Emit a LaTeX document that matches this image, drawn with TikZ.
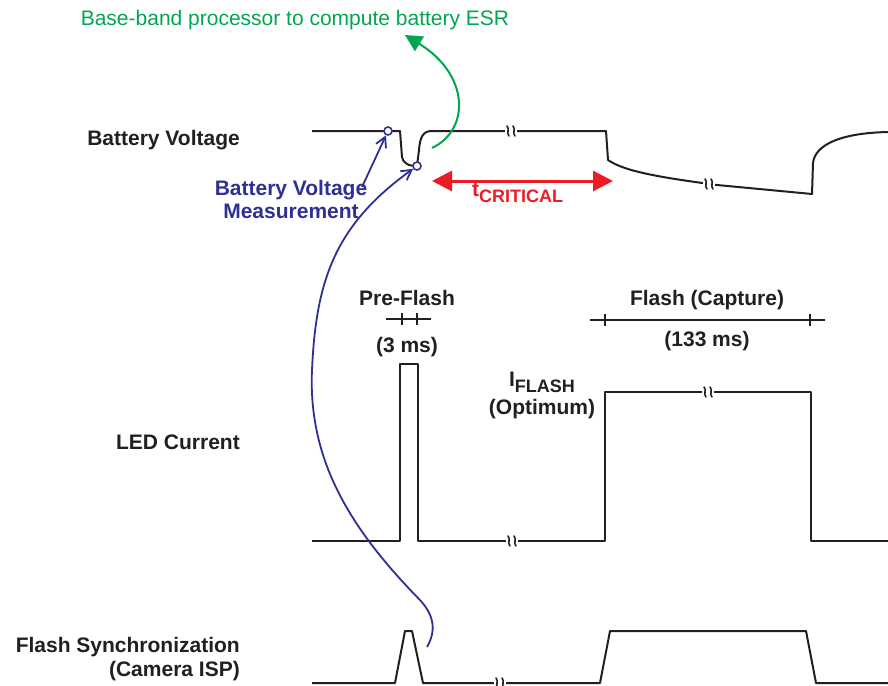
\documentclass[tikz,border=0pt]{standalone}
\usepackage{fontspec}
\setmainfont{Liberation Sans}
\usepackage{tikz}
\usetikzlibrary{arrows.meta, positioning, calc}
\definecolor{textdark}{HTML}{231F20}
\definecolor{measblue}{HTML}{2E3192}
\definecolor{esrgreen}{HTML}{00A651}
\definecolor{critred}{HTML}{ED1C24}
\tikzset{
  trace/.style={line width=2pt, textdark, line join=round},
  marr/.style={-{Straight Barb[length=10pt, width=11pt, line width=1.8pt]}, line width=1.8pt, measblue},
  garr/.style={-{Triangle[length=17pt, width=17pt]}, line width=2pt, esrgreen},
  rarr/.style={{Triangle[length=20pt, width=20pt]}-{Triangle[length=20pt, width=20pt]}, line width=3pt, critred},
  probe/.style={circle, draw=measblue, fill=white, line width=1.6pt, minimum size=8pt, inner sep=0pt},
  signame/.style={font=\fontsize{21}{24}\selectfont\bfseries, text=textdark, inner sep=0pt},
  brk/.pic={
    \fill[white] (-6,-6) rectangle (6,6);
    \draw[line width=1.6pt, textdark, line cap=round] (-4,-5) .. controls (-1,-2) and (-5,2) .. (-2,5);
    \draw[line width=1.6pt, textdark, line cap=round] (2,-5) .. controls (5,-2) and (1,2) .. (4,5);
  },
}

\begin{document}
\begin{tikzpicture}[x=1pt, y=-1pt,
    span/.style={line width=1.5pt, textdark},
    spantxt/.style={font=\fontsize{21}{24}\selectfont\bfseries, text=textdark, inner sep=0pt, anchor=base},
    measlbl/.style={font=\fontsize{21}{23}\selectfont\bfseries, text=measblue, align=center, inner sep=0pt}]
  \useasboundingbox (0,0) rectangle (888,685);

  % Signal names
  \node[signame, anchor=base east] (LV) at (240,145.5) {Battery Voltage};
  \node[signame, anchor=base east] (LL) at (240,449) {LED Current};
  \node[signame, anchor=east, align=right] (LS) at (240,659) {Flash Synchronization\\(Camera ISP)};

  % Battery voltage trace
  \draw[trace] (312,131) -- (400,131) -- (402,157) .. controls (403,163) and (408,166) .. (417,166)
    -- (419,150) .. controls (420,137) and (423,131) .. (432,131) -- (518,131) -- (606,131)
    -- (608,160) .. controls (625,172) and (665,178) .. (717,185) -- (812,194)
    -- (813,163) .. controls (815,145) and (840,133) .. (888,132);
  \pic at (511,131) {brk};
  \pic at (709,184) {brk};

  % LED current trace
  \draw[trace] (312,541) -- (400,541) -- (400,364) -- (418,364) -- (418,541) -- (605,541)
    -- (605,392) -- (811,392) -- (811,541) -- (888,541);
  \pic at (512,541) {brk};
  \pic at (708,392) {brk};

  % Flash synchronization trace
  \draw[trace] (312,683) -- (395,683) -- (405,631) -- (412,631) -- (423,683) -- (600,683)
    -- (610,631) -- (806,631) -- (816,683) -- (888,683);
  \pic at (500,683) {brk};

  % Pulse widths
  \draw[span] (386,319) -- (431,319) (402,313) -- (402,325) (417,313) -- (417,325);
  \draw[span] (590,320) -- (825,320) (605,314) -- (605,326) (810,314) -- (810,326);
  \node[spantxt] (PF) at (407,305) {Pre-Flash};
  \node[spantxt] (PW) at (407,352) {(3 ms)};
  \node[spantxt] (FC) at (707,305) {Flash (Capture)};
  \node[spantxt] (FW) at (707,346) {(133 ms)};
  \node[spantxt] (IF) at (542,386) {I\raisebox{-6pt}{\fontsize{18}{20}\selectfont FLASH}};
  \node[spantxt] (IO) at (542,414) {(Optimum)};

  % Measurement points
  \node[probe] (M1) at (388,131) {};
  \node[probe] (M2) at (417,166) {};
  \node[measlbl] (BM) at (291,199.5) {Battery Voltage\\Measurement};
  \coordinate (A1) at (362,187);
  \coordinate (S1) at (427,647);
  \draw[marr] (A1) -- (M1);
  \draw[marr] (S1) .. controls (438,628) and (432,612) .. (418,598)
    .. controls (350,528) and (308,460) .. (312,370)
    .. controls (316,280) and (335,225) .. (M2);

  % Critical time
  \coordinate (R1) at (432,181);
  \coordinate (R2) at (613,181);
  \draw[rarr] (R1) -- (R2);
  \node[font=\fontsize{21}{24}\selectfont\bfseries, text=critred, inner sep=0pt, anchor=base west] (TC) at (472,196)
    {t\raisebox{-6pt}{\fontsize{18}{20}\selectfont CRITICAL}};

  % Base-band processor
  \node[font=\fontsize{21}{24}\selectfont, text=esrgreen, inner sep=0pt, anchor=base] (GT) at (295,26)
    {Base-band processor to compute battery ESR};
  \coordinate (G0) at (432,148);
  \coordinate (G1) at (405,35);
  \draw[garr] (G0) .. controls (470,130) and (470,75) .. (G1);
\end{tikzpicture}
\end{document}
